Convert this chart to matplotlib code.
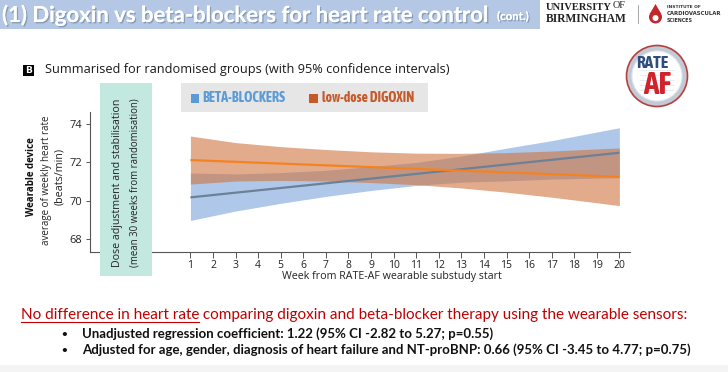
import matplotlib
matplotlib.use("Agg")
import matplotlib.pyplot as plt
from matplotlib.patches import Rectangle, Circle, Polygon
from matplotlib.lines import Line2D
import matplotlib.patheffects as pe

# ---------------- data ----------------
weeks = [1, 3, 5, 7, 9, 11, 13, 15, 17, 19, 20]
beta_lower = [68.98, 69.47, 69.87, 70.23, 70.54, 70.80, 70.97, 71.04, 71.13, 71.18, 71.20]
beta_upper = [71.45, 71.40, 71.47, 71.59, 71.78, 72.00, 72.33, 72.74, 73.13, 73.58, 73.80]
dig_lower = [70.87, 71.03, 71.06, 71.03, 70.95, 70.84, 70.67, 70.45, 70.19, 69.90, 69.75]
dig_upper = [73.37, 73.03, 72.82, 72.67, 72.55, 72.48, 72.47, 72.51, 72.59, 72.70, 72.75]
line_weeks = [1, 20]
beta_line = [70.18, 72.50]
dig_line = [72.12, 71.25]
xticks = list(range(1, 21))
yticks = [68, 70, 72, 74]

W, H = 728, 372
fig = plt.figure(figsize=(W / 100, H / 100), dpi=100)
fig.patch.set_facecolor("white")
R = fig.canvas.get_renderer()

def fx(x):
    return x / W

def fy(y):
    return 1 - y / H

def fit(t, width):
    bb = t.get_window_extent(R)
    t.set_fontsize(t.get_fontsize() * width / bb.width)
    return t

def ftext(x, y, s, width=None, **kw):
    t = fig.text(fx(x), fy(y), s, **kw)
    if width:
        fit(t, width)
    return t

SLIDE = "Lato"
CHART = "Open Sans"
COND = ["Asap Condensed", "DejaVu Sans"]

# ---------------- title bar ----------------
fig.add_artist(Rectangle((0, fy(29)), fx(540), 29 / H, transform=fig.transFigure,
                         facecolor="#b4c7e4", edgecolor="none", zorder=1))
shadow = [pe.withSimplePatchShadow(offset=(1, -1), shadow_rgbFace="#6d7f99", alpha=0.6), pe.Normal()]
t1 = ftext(2, 15, "(1) Digoxin vs beta-blockers for heart rate control", width=489,
           family=SLIDE, weight="bold", color="white", va="center", fontsize=15, zorder=3)
t1.set_path_effects(shadow)
t2 = ftext(497, 16.5, "(cont.)", width=32, family=SLIDE, weight="bold", color="white",
           va="center", fontsize=9, zorder=3)
t2.set_path_effects(shadow)

# ---------------- logos ----------------
ftext(546, 8, "UNIVERSITY", width=66, family="Liberation Serif", weight="bold",
      color="#222222", va="center", fontsize=8)
ftext(613, 6, "OF", width=13, family="Liberation Serif", color="#222222", va="center", fontsize=5)
ftext(546, 19, "BIRMINGHAM", width=81, family="Liberation Serif", weight="bold",
      color="#222222", va="center", fontsize=8)
fig.add_artist(Line2D([fx(638), fx(638)], [fy(5), fy(23)], transform=fig.transFigure,
                      color="#999999", lw=0.6))
# drop icon
fig.add_artist(Circle((6.555, (H - 17) / 100), 0.065, transform=fig.dpi_scale_trans,
                      facecolor="#c0282d", edgecolor="none"))
fig.add_artist(Polygon([(6.497, (H - 14) / 100), (6.555, (H - 4) / 100), (6.613, (H - 14) / 100)],
                       closed=True, transform=fig.dpi_scale_trans, facecolor="#c0282d", edgecolor="none"))
fig.add_artist(Circle((6.555, (H - 18) / 100), 0.03, transform=fig.dpi_scale_trans,
                      facecolor="white", edgecolor="none"))
for yy, s, w in [(6.5, "INSTITUTE OF", 33), (13.5, "CARDIOVASCULAR", 55), (20.5, "SCIENCES", 26)]:
    ftext(667, yy, s, width=w, family="DejaVu Sans", weight="bold", color="#333333",
          va="center", fontsize=4)

# RATE AF roundel
cx, cy = 6.57, (H - 76) / 100
fig.add_artist(Circle((cx, cy), 0.305, transform=fig.dpi_scale_trans,
                      facecolor="#c3cad6", edgecolor="#b5403f", lw=1.2, zorder=6))
fig.add_artist(Circle((cx, cy), 0.25, transform=fig.dpi_scale_trans,
                      facecolor="white", edgecolor="#e3e7ee", lw=0.8, zorder=6))
for k in range(5):
    yy = 70 + k * 5
    fig.add_artist(Line2D([fx(640), fx(674)], [fy(yy), fy(yy)], transform=fig.transFigure,
                          color="#dfe6f0", lw=0.5, zorder=6))
ftext(652, 63, "RATE", width=32, family=COND, weight="bold", color="#2d4d7c",
      ha="center", va="center", fontsize=8, zorder=7)
ftext(657, 85, "AF", width=28, family=COND, weight="bold", color="#d0232b",
      ha="center", va="center", fontsize=14, zorder=7)

# ---------------- subtitle ----------------
fig.add_artist(Rectangle((fx(23), fy(76)), fx(10.5), 11 / H, transform=fig.transFigure,
                         facecolor="black", edgecolor="none"))
ftext(28.2, 70.5, "B", family="DejaVu Sans", weight="bold", color="white", ha="center",
      va="center", fontsize=6.5)
ftext(45, 70, "Summarised for randomised groups (with 95% confidence intervals)", width=402,
      family=CHART, color="#1a1a1a", va="center", fontsize=10)

# ---------------- main axes ----------------
ax = fig.add_axes([fx(89.5), fy(252), fx(630 - 89.5), (252 - 112) / H])
ax.set_xlim(-3.47, 20.47)
ax.set_ylim(67.34, 74.62)
ax.set_facecolor("none")

ax.fill_between(weeks, beta_lower, beta_upper, color="#7ea7dc", alpha=0.62, lw=0, zorder=1)
ax.fill_between(weeks, dig_lower, dig_upper, color="#cf7440", alpha=0.6, lw=0, zorder=2)
ax.plot(line_weeks, beta_line, color="#6b8197", lw=1.6, zorder=3, solid_capstyle="butt")
ax.plot(line_weeks, dig_line, color="#f58220", lw=1.6, zorder=4, solid_capstyle="butt")

for s in ["top", "right"]:
    ax.spines[s].set_visible(False)
for s in ["left", "bottom"]:
    ax.spines[s].set_color("#555555")
    ax.spines[s].set_linewidth(0.8)
ax.set_xticks(xticks)
ax.set_xticklabels([str(v) for v in xticks], family=CHART, fontsize=7.5, color="#222222")
ax.set_yticks(yticks)
ax.set_yticklabels([str(v) for v in yticks], family=CHART, fontsize=8, color="#222222")
ax.tick_params(axis="x", direction="out", length=4, width=0.7, color="#555555", pad=1.5)
ax.tick_params(axis="y", direction="out", length=3, width=0.7, color="#555555", pad=2.5)

# y axis label (three lines)
ylab = [ftext(32, 177, "Wearable device", family=CHART, weight="bold", rotation=90,
              ha="center", va="center", fontsize=9.5, color="#111111"),
        ftext(46.5, 180, "average of weekly heart rate", family=CHART, rotation=90,
              ha="center", va="center", fontsize=8.5, color="#222222"),
        ftext(60, 176.5, "(beats/min)", family=CHART, rotation=90,
              ha="center", va="center", fontsize=8.5, color="#222222")]
for t, h in zip(ylab, [80, 130, 57]):
    bb = t.get_window_extent(R)
    t.set_fontsize(t.get_fontsize() * h / bb.height)

# x label
ftext(392, 276, "Week from RATE-AF wearable substudy start", width=220, family=CHART,
      ha="center", va="center", fontsize=8.5, color="#222222")

# green shaded note box
fig.add_artist(Rectangle((fx(100), fy(276)), fx(52), (276 - 83) / H, transform=fig.transFigure,
                         facecolor="#c3e8df", edgecolor="none", zorder=5))
for xx, s, h in [(117, "Dose adjustment and stabilisation", 170),
                 (135, "(mean 30 weeks from randomisation)", 170)]:
    t = ftext(xx, 183, s, family=CHART, rotation=90, ha="center", va="center",
              fontsize=9, color="#222222", zorder=6)
    bb = t.get_window_extent(R)
    t.set_fontsize(t.get_fontsize() * h / bb.height)

# legend box
fig.add_artist(Rectangle((fx(180.7), fy(112)), fx(247), 29 / H, transform=fig.transFigure,
                         facecolor="#e6e6e6", edgecolor="none", zorder=5))
fig.add_artist(Rectangle((fx(190.7), fy(103)), fx(8.6), 9.5 / H, transform=fig.transFigure,
                         facecolor="#5b9bd5", edgecolor="none", zorder=6))
fig.add_artist(Rectangle((fx(309.3), fy(103)), fx(8.6), 9.5 / H, transform=fig.transFigure,
                         facecolor="#c5592a", edgecolor="none", zorder=6))
ftext(202, 98, "BETA-BLOCKERS", width=83, family=COND,
      weight="bold", color="#5b9bd5", va="center", fontsize=9, zorder=7)
ftext(322, 98, "low-dose DIGOXIN", width=93, family=COND,
      weight="bold", color="#c5592a", va="center", fontsize=9, zorder=7)

# ---------------- bottom text ----------------
RED = "#c00000"
p1 = ftext(21, 315, "No difference in heart rate", family=SLIDE, color=RED, va="center", fontsize=11.5)
full = ftext(21, 315, "No difference in heart rate comparing digoxin and beta-blocker therapy using the wearable sensors:",
             width=667, family=SLIDE, color=RED, va="center", fontsize=11.5)
p1.set_fontsize(full.get_fontsize())
full.set_visible(False)
bb1 = p1.get_window_extent(R)
ftext(bb1.x1, 315, " comparing digoxin and beta-blocker therapy using the wearable sensors:",
      family=SLIDE, color=RED, va="center", fontsize=full.get_fontsize())
fig.add_artist(Line2D([fx(21), fx(bb1.x1)], [fy(321.5), fy(321.5)], transform=fig.transFigure,
                      color=RED, lw=0.8))

ftext(61, 334, "\u2022", family=SLIDE, weight="bold", color="#111111", va="center", fontsize=7)
ftext(61, 350, "\u2022", family=SLIDE, weight="bold", color="#111111", va="center", fontsize=7)
ftext(82, 334, "Unadjusted regression coefficient: 1.22 (95% CI -2.82 to 5.27; p=0.55)", width=411,
      family=SLIDE, weight="bold", color="#111111", va="center", fontsize=10)
ftext(82, 350, "Adjusted for age, gender, diagnosis of heart failure and NT-proBNP: 0.66 (95% CI -3.45 to 4.77; p=0.75)",
      width=610, family=SLIDE, weight="bold", color="#111111", va="center", fontsize=10)

fig.add_artist(Rectangle((0, 0), 1, 7 / H, transform=fig.transFigure,
                         facecolor="#f4f4f4", edgecolor="none", zorder=1))

fig.savefig("out.png", dpi=100)
